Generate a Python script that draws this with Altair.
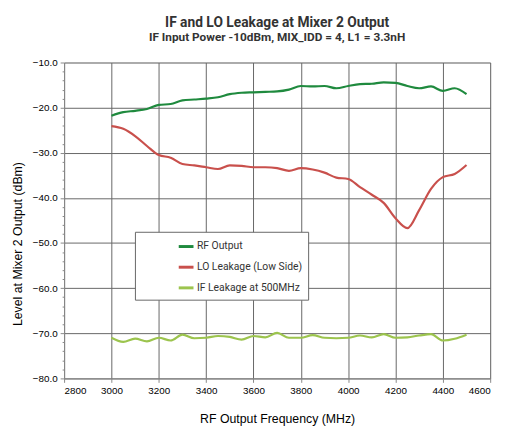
import altair as alt
import pandas as pd

freq = [3000 + 50 * i for i in range(31)]

rf_output = [-21.8, -21.0, -20.7, -20.3, -19.4, -19.2, -18.4, -18.2, -18.0, -17.7,
             -17.0, -16.7, -16.6, -16.5, -16.4, -16.0, -15.2, -15.3, -15.2, -15.7,
             -15.2, -14.8, -14.7, -14.4, -14.5, -15.2, -15.7, -15.3, -16.3, -15.7, -17.0]

lo_leakage = [-24.1, -24.7, -26.3, -28.5, -30.5, -31.1, -32.5, -32.8, -33.2, -33.6,
              -32.8, -32.9, -33.2, -33.2, -33.4, -34.0, -33.4, -33.7, -34.4, -35.5,
              -35.8, -37.6, -39.3, -41.1, -44.5, -46.7, -42.7, -38.0, -35.4, -34.7, -32.7]

if_leakage = [-71.0, -71.9, -71.2, -71.8, -71.0, -71.6, -70.3, -71.1, -71.0, -70.6,
              -70.8, -71.4, -70.6, -70.9, -69.9, -71.0, -71.0, -70.4, -71.0, -71.1,
              -71.0, -70.5, -70.9, -70.2, -71.0, -70.9, -70.5, -70.2, -71.6, -71.2, -70.3]

series_names = ["RF Output", "LO Leakage (Low Side)", "IF Leakage at 500MHz"]
series_colors = ["#1f8a3e", "#c9504c", "#9cc44e"]

x_ticks = [2800, 3000, 3200, 3400, 3600, 3800, 4000, 4200, 4400, 4600]
y_ticks = list(range(-80, -9, 2))

rows = []
for name, vals in zip(series_names, [rf_output, lo_leakage, if_leakage]):
    for f, v in zip(freq, vals):
        rows.append({"freq": f, "level": v, "series": name})
df = pd.DataFrame(rows)

FONT = "Roboto"
GRID = "#666666"

chart = alt.Chart(df).mark_line(strokeWidth=2.2, interpolate="monotone").encode(
    x=alt.X("freq:Q",
            scale=alt.Scale(domain=[2800, 4600], nice=False, zero=False),
            axis=alt.Axis(values=x_ticks, title="RF Output Frequency (MHz)",
                          format="d", grid=True, gridColor=GRID, tickSize=4,
                          labelPadding=3, titlePadding=18, titleFontWeight="normal",
                          titleFontSize=12.5)),
    y=alt.Y("level:Q",
            scale=alt.Scale(domain=[-80, -10], nice=False, zero=False),
            axis=alt.Axis(values=y_ticks,
                          title="Level at Mixer 2 Output (dBm)",
                          labelExpr="datum.value % 10 == 0 ? format(datum.value, '.1f') : ''",
                          gridColor=GRID,
                          gridOpacity={"condition": {"test": "datum.value % 10 != 0", "value": 0}, "value": 1},
                          tickSize={"condition": {"test": "datum.value % 10 != 0", "value": 2}, "value": 4},
                          labelPadding=3, titlePadding=8, titleFontWeight="normal",
                          titleFontSize=12.5, titleY=184)),
    color=alt.Color("series:N",
                    scale=alt.Scale(domain=series_names, range=series_colors),
                    legend=alt.Legend(title=None, orient="none", legendX=72, legendY=172,
                                      symbolType="stroke", symbolSize=225,
                                      symbolStrokeWidth=3, symbolOffset=37,
                                      labelOffset=2, padding=6, rowPadding=6,
                                      fillColor="white", strokeColor="#666666",
                                      labelFontSize=10.5, labelFont=FONT,
                                      labelColor="#333333")),
    order=alt.Order("freq:Q"),
).properties(
    width=433, height=321,
    autosize="none",
    padding={"left": 57, "top": 52, "right": 12, "bottom": 47},
    title=alt.Title("IF and LO Leakage at Mixer 2 Output",
                    subtitle="IF Input Power -10dBm, MIX_IDD = 4, L1 = 3.3nH",
                    fontSize=14, subtitleFontSize=12, fontWeight="bold",
                    subtitleFontWeight="bold", color="#333333",
                    subtitleColor="#333333", font=FONT, subtitleFont=FONT,
                    anchor="middle", offset=15, subtitlePadding=2),
).configure_view(
    stroke="#666666", strokeWidth=1.2
).configure_axis(
    domainColor="#555555", tickColor="#555555",
    labelFont=FONT, titleFont=FONT, labelFontSize=11.5,
    labelColor="#333333", titleColor="#333333"
).configure(background="white")

chart.save("out.html", embed_options={"renderer": "svg", "actions": False})
